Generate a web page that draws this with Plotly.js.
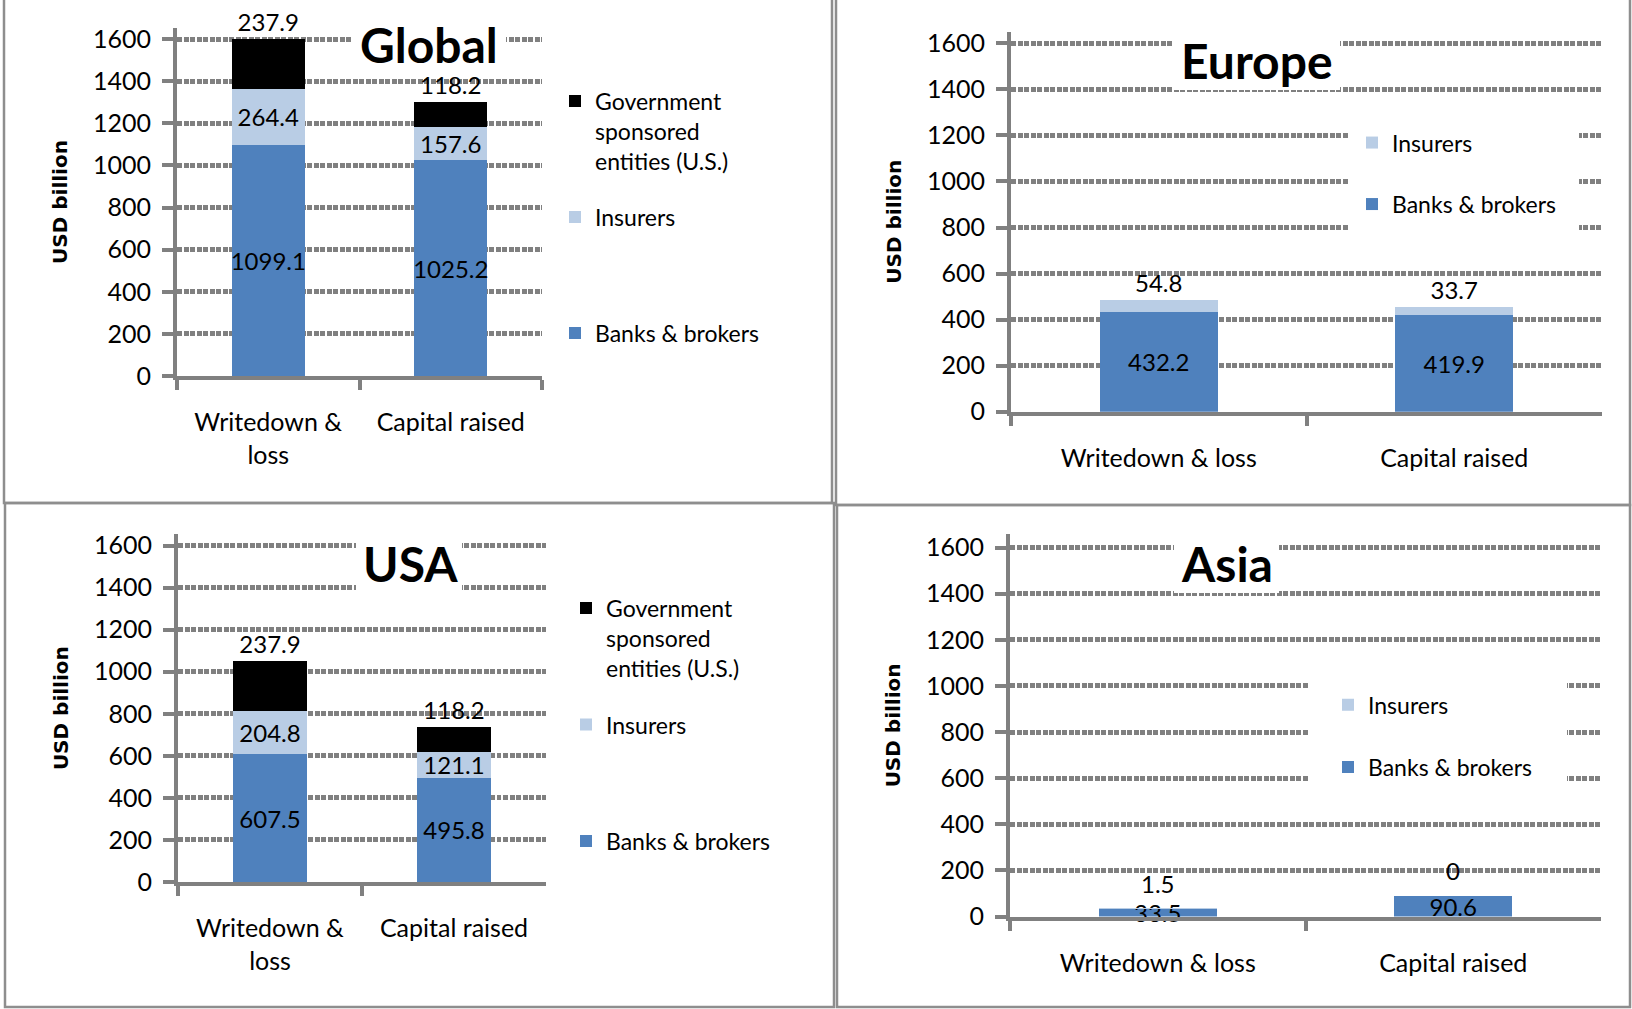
<!DOCTYPE html>
<html>
<head>
<meta charset="utf-8">
<script src="https://cdn.plot.ly/plotly-3.0.1.min.js"></script>
<style>
html, body { margin: 0; padding: 0; background: #ffffff; }
#chart { width: 1632px; height: 1009px; }
</style>
</head>
<body>
<div id="chart"></div>
<script>
// ---------------- DATA ----------------
const categories = ['Writedown & loss', 'Capital raised'];
const wrappedCategoryLabels = ['Writedown &<br>loss', 'Capital raised'];
const flatCategoryLabels = ['Writedown & loss', 'Capital raised'];
const yTickValues = [0, 200, 400, 600, 800, 1000, 1200, 1400, 1600];

const seriesBanks = 'Banks & brokers';
const seriesInsurers = 'Insurers';
const seriesGSE = 'Government<br>sponsored<br>entities (U.S.)';

const panelTitles = ['Global', 'Europe', 'USA', 'Asia'];
const yAxisTitle = 'USD billion';

const globalBanks = [1099.1, 1025.2];
const globalInsurers = [264.4, 157.6];
const globalGSE = [237.9, 118.2];

const europeBanks = [432.2, 419.9];
const europeInsurers = [54.8, 33.7];

const usaBanks = [607.5, 495.8];
const usaInsurers = [204.8, 121.1];
const usaGSE = [237.9, 118.2];

const asiaBanks = [33.5, 90.6];
const asiaInsurers = [1.5, 0];

// ---------------- STYLE / LAYOUT ----------------
const W = 1632, H = 1009;
const px = v => v / W;
const py = v => 1 - v / H;

const GRAY = '#808080';
const BORDER = '#8e8e8e';
const C_BANKS = '#4f81bd';
const C_INS = '#b9cde5';
const C_GSE = '#000000';
const FONT = 'Lato, "Open Sans", sans-serif';
const LABEL_FONT = { family: FONT, size: 24, color: '#000000' };

// pixel geometry of each panel's plot area
const geo = {
  global: { n: '',  left: 177,  right: 542,  top: 28,    zero: 376,   top1600: 39,    labels: wrappedCategoryLabels },
  europe: { n: '2', left: 1011, right: 1602, top: 31.7,  zero: 411.7, top1600: 43.3,  labels: flatCategoryLabels },
  usa:    { n: '3', left: 178,  right: 546,  top: 534.3, zero: 882,   top1600: 545.5, labels: wrappedCategoryLabels },
  asia:   { n: '4', left: 1010, right: 1601, top: 534.3, zero: 916.5, top1600: 547.6, labels: flatCategoryLabels }
};

const RANK = { gse: 1, ins: 2, banks: 3 };

// textMode: 'inside' | 'outside' | 'none'
function barTrace(panel, name, values, color, textMode, legendKey, group, rank, legendText) {
  const g = geo[panel];
  return {
    type: 'bar',
    name: legendText || name,
    x: categories,
    y: values,
    xaxis: 'x' + g.n,
    yaxis: 'y' + g.n,
    width: 0.4,
    marker: { color: color, line: { width: 0 } },
    text: textMode === 'none' ? undefined : values.map(String),
    textposition: textMode,
    insidetextanchor: 'middle',
    textangle: 0,
    constraintext: 'none',
    cliponaxis: false,
    textfont: LABEL_FONT,
    insidetextfont: LABEL_FONT,
    outsidetextfont: LABEL_FONT,
    legend: legendKey,
    legendgroup: group,
    legendrank: rank,
    hoverinfo: 'skip'
  };
}

const data = [
  barTrace('global', seriesBanks, globalBanks, C_BANKS, 'inside', 'legend', 'gb', RANK.banks),
  barTrace('global', seriesInsurers, globalInsurers, C_INS, 'inside', 'legend', 'gi', RANK.ins, seriesInsurers + '<br> <br> '),
  barTrace('global', seriesGSE, globalGSE, C_GSE, 'outside', 'legend', 'gg', RANK.gse),

  barTrace('europe', seriesBanks, europeBanks, C_BANKS, 'inside', 'legend2', 'eb', RANK.banks),
  barTrace('europe', seriesInsurers, europeInsurers, C_INS, 'outside', 'legend2', 'ei', RANK.ins),

  barTrace('usa', seriesBanks, usaBanks, C_BANKS, 'inside', 'legend3', 'ub', RANK.banks),
  barTrace('usa', seriesInsurers, usaInsurers, C_INS, 'inside', 'legend3', 'ui', RANK.ins, seriesInsurers + '<br> <br> '),
  barTrace('usa', seriesGSE, usaGSE, C_GSE, 'outside', 'legend3', 'ug', RANK.gse),

  barTrace('asia', seriesBanks, asiaBanks, C_BANKS, 'inside', 'legend4', 'ab', RANK.banks),
  barTrace('asia', seriesInsurers, asiaInsurers, C_INS, 'none', 'legend4', 'ai', RANK.ins)
];

const layout = {
  width: W, height: H,
  margin: { l: 0, r: 0, t: 0, b: 0, pad: 0 },
  paper_bgcolor: '#ffffff',
  plot_bgcolor: 'rgba(0,0,0,0)',
  barmode: 'stack',
  showlegend: true,
  font: { family: FONT, size: 24, color: '#000000' },
  shapes: [],
  annotations: []
};

Object.keys(geo).forEach(function (k) {
  const g = geo[k];
  const rangeTop = 1600 * (g.zero - g.top) / (g.zero - g.top1600);
  layout['xaxis' + g.n] = {
    domain: [px(g.left), px(g.right)],
    anchor: 'y' + g.n,
    type: 'category',
    range: [-0.5, 1.5],
    tickmode: 'array',
    tickvals: categories,
    ticktext: g.labels,
    tickson: 'boundaries',
    ticks: 'outside', ticklen: 10, tickwidth: 4, tickcolor: GRAY,
    showline: true, linecolor: GRAY, linewidth: 4,
    showgrid: false, zeroline: false,
    tickfont: { family: FONT, size: 25, color: '#000000' },
    ticklabelstandoff: 21,
    fixedrange: true
  };
  layout['yaxis' + g.n] = {
    domain: [py(g.zero), py(g.top)],
    anchor: 'x' + g.n,
    range: [0, rangeTop],
    tickmode: 'array',
    tickvals: yTickValues,
    ticktext: yTickValues.map(String),
    ticks: 'outside', ticklen: 11, tickwidth: 4, tickcolor: GRAY,
    showline: true, linecolor: GRAY, linewidth: 4,
    showgrid: true, gridcolor: GRAY, gridwidth: 5, griddash: '5px,1.5px',
    zeroline: false,
    tickfont: { family: FONT, size: 25, color: '#000000' },
    ticklabelstandoff: 6,
    title: { text: yAxisTitle, standoff: 21, font: { family: '"DejaVu Sans", Verdana, sans-serif', size: 20, color: '#000000', weight: 700 } },
    fixedrange: true
  };
});

// Asia's top-of-stack labels, placed at the stack top through the data axes
categories.forEach(function (c, i) {
  layout.annotations.push({
    text: String(asiaInsurers[i]),
    x: c, y: asiaBanks[i] + asiaInsurers[i],
    xref: 'x4', yref: 'y4',
    yshift: 25, xanchor: 'center', yanchor: 'middle',
    showarrow: false, font: LABEL_FONT
  });
});

// legends
const legendCommon = {
  xanchor: 'left', yanchor: 'top',
  bgcolor: 'rgba(255,255,255,0)', borderwidth: 0,
  font: { family: FONT, size: 23, color: '#000000' },
  traceorder: 'grouped',
  valign: 'top',
  itemclick: false, itemdoubleclick: false
};
layout.legend  = Object.assign({}, legendCommon, { x: px(555),  y: py(79.6),  tracegroupgap: 23.3 });
layout.legend2 = Object.assign({}, legendCommon, { x: px(1352), y: py(121.1), tracegroupgap: 28.6 });
layout.legend3 = Object.assign({}, legendCommon, { x: px(566),  y: py(586.6), tracegroupgap: 23.8 });
layout.legend4 = Object.assign({}, legendCommon, { x: px(1328), y: py(683.2), tracegroupgap: 29.5 });

// panel borders
function rectPx(x0, y0, x1, y1, extra) {
  return Object.assign({ type: 'rect', xref: 'paper', yref: 'paper', x0: px(x0), x1: px(x1), y0: py(y1), y1: py(y0) }, extra);
}
const borderStyle = { line: { color: BORDER, width: 2.5 }, fillcolor: 'rgba(0,0,0,0)', layer: 'below' };
layout.shapes.push(rectPx(4, -10, 832, 503, borderStyle));
layout.shapes.push(rectPx(836, -10, 1630, 505, borderStyle));
layout.shapes.push(rectPx(5, 503, 834, 1007, borderStyle));
layout.shapes.push(rectPx(837, 505, 1630, 1007, borderStyle));

// white boxes (chart title areas and legend areas inside plot)
const whiteBox = { line: { width: 0 }, fillcolor: '#ffffff', layer: 'above' };
layout.shapes.push(rectPx(351, 5, 506, 72, whiteBox));
layout.shapes.push(rectPx(1174, 25, 1340, 90, whiteBox));
layout.shapes.push(rectPx(356, 528, 462, 612, whiteBox));
layout.shapes.push(rectPx(1174, 528, 1279, 593, whiteBox));
layout.shapes.push(rectPx(1348, 105, 1579, 255, whiteBox));
layout.shapes.push(rectPx(1308, 655, 1567, 805, whiteBox));

// chart titles
const titlePos = [[429, 44], [1257, 60], [410, 563], [1227, 563]];
panelTitles.forEach(function (t, i) {
  layout.annotations.push({
    text: t, xref: 'paper', yref: 'paper',
    x: px(titlePos[i][0]), y: py(titlePos[i][1]),
    xanchor: 'center', yanchor: 'middle', showarrow: false,
    font: { family: FONT, size: 48, color: '#000000', weight: 700 }
  });
});

Plotly.newPlot('chart', data, layout, { staticPlot: true, displayModeBar: false });
</script>
</body>
</html>
